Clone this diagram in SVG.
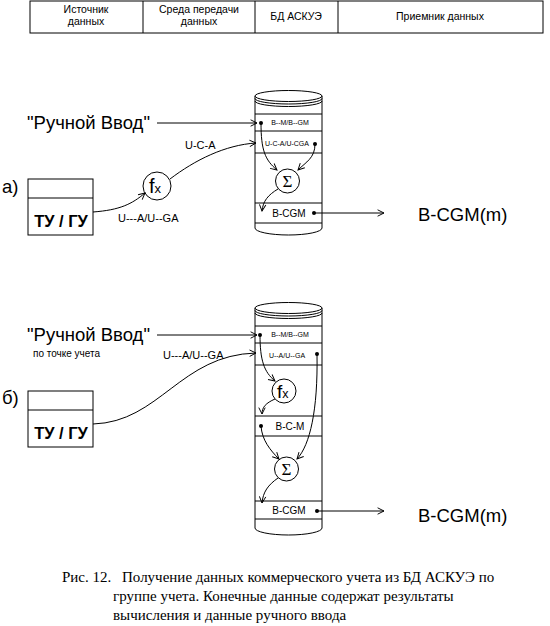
<svg xmlns="http://www.w3.org/2000/svg" width="550" height="626" viewBox="0 0 550 626">
<defs>
<marker id="arr" viewBox="0 0 10 10" refX="9" refY="5" markerWidth="8" markerHeight="8" markerUnits="userSpaceOnUse" orient="auto">
<path d="M1,1 L9,5 L1,9" fill="none" stroke="#000" stroke-width="1.2"/>
</marker>
<style>
.ln{fill:none;stroke:#000;stroke-width:1}
.cyl{fill:#fff;stroke:#000;stroke-width:1}
.s{font-family:"Liberation Sans",Arial,sans-serif;fill:#000}
.hd{font-size:10.5px;text-anchor:middle}
.big{font-size:18.5px}
.lab{font-size:11px}
.row{font-size:7px;text-anchor:middle}
.row2{font-size:10px;text-anchor:middle}
.cap{font-family:"Liberation Serif","Times New Roman",serif;font-size:15px;fill:#000}
.dot{fill:#000}
</style>
</defs>
<rect width="550" height="626" fill="#fff"/>

<g id="header">
<rect x="30" y="1" width="513" height="32" class="ln"/>
<line x1="143" y1="1" x2="143" y2="33" class="ln"/>
<line x1="255" y1="1" x2="255" y2="33" class="ln"/>
<line x1="338" y1="1" x2="338" y2="33" class="ln"/>
<text class="s hd" x="86" y="13">Источник</text>
<text class="s hd" x="86" y="25">данных</text>
<text class="s hd" x="199" y="13">Среда передачи</text>
<text class="s hd" x="199" y="25">данных</text>
<text class="s hd" x="296" y="20">БД АСКУЭ</text>
<text class="s hd" x="440" y="20">Приемник данных</text>
</g>

<!-- Section a -->
<g id="label-a"><text class="s big" x="2" y="193">а)</text></g>
<g id="manual-a"><text class="s big" x="27" y="129">"Ручной Ввод"</text></g>
<g id="tu-a">
<rect x="28" y="179" width="65" height="56" class="ln"/>
<line x1="28" y1="198" x2="93" y2="198" class="ln"/>
<text class="s" x="61" y="227" font-size="16.5" font-weight="bold" text-anchor="middle">ТУ / ГУ</text>
</g>
<g id="fx-a">
<circle cx="157" cy="186" r="14" class="cyl"/>
<text class="s" x="149" y="193" font-size="20">f<tspan font-size="13">x</tspan></text>
</g>
<g id="db-a">
<path d="M255,96 L255,228 A33.5,7 0 0 0 322,228 L322,96" class="cyl"/>
<ellipse cx="288.5" cy="96" rx="33.5" ry="5.5" class="cyl"/>
<path d="M255,98.5 A33.5,5.5 0 0 0 322,98.5" class="ln"/>
<path d="M255,101 A33.5,5.5 0 0 0 322,101" class="ln"/>
<line x1="255" y1="114" x2="322" y2="114" class="ln"/>
<line x1="255" y1="131" x2="322" y2="131" class="ln"/>
<line x1="255" y1="153" x2="322" y2="153" class="ln"/>
<line x1="255" y1="203" x2="322" y2="203" class="ln"/>
<line x1="255" y1="223" x2="322" y2="223" class="ln"/>
<text class="s row" x="290" y="125">B--M/B--GM</text>
<text class="s row" x="287" y="146">U-C-A/U-CGA</text>
<text class="s row2" x="289" y="217">B-CGM</text>
</g>
<g id="sum-a">
<circle cx="287.5" cy="181" r="12" class="cyl"/>
<text x="287.5" y="187" font-family="Liberation Serif,serif" font-size="17" text-anchor="middle">Σ</text>
</g>
<g id="out-a"><text class="s big" x="418" y="221">B-CGM(m)</text></g>

<!-- Section b -->
<g id="label-b"><text class="s big" x="2" y="404">б)</text></g>
<g id="manual-b">
<text class="s big" x="27" y="341">"Ручной Ввод"</text>
<text class="s" x="33" y="357" font-size="10">по точке учета</text>
</g>
<g id="tu-b">
<rect x="28" y="391" width="65" height="56" class="ln"/>
<line x1="28" y1="410" x2="93" y2="410" class="ln"/>
<text class="s" x="61" y="439" font-size="16.5" font-weight="bold" text-anchor="middle">ТУ / ГУ</text>
</g>
<g id="db-b">
<path d="M255,308 L255,528 A33.5,7 0 0 0 322,528 L322,308" class="cyl"/>
<ellipse cx="288.5" cy="308" rx="33.5" ry="5.5" class="cyl"/>
<path d="M255,310.5 A33.5,5.5 0 0 0 322,310.5" class="ln"/>
<path d="M255,313 A33.5,5.5 0 0 0 322,313" class="ln"/>
<line x1="255" y1="326" x2="322" y2="326" class="ln"/>
<line x1="255" y1="343" x2="322" y2="343" class="ln"/>
<line x1="255" y1="365" x2="322" y2="365" class="ln"/>
<line x1="255" y1="416" x2="322" y2="416" class="ln"/>
<line x1="255" y1="436" x2="322" y2="436" class="ln"/>
<line x1="255" y1="501" x2="322" y2="501" class="ln"/>
<line x1="255" y1="519" x2="322" y2="519" class="ln"/>
<text class="s row" x="290" y="337">B--M/B--GM</text>
<text class="s row" x="287" y="358">U--A/U--GA</text>
<text class="s row2" x="290" y="430">B-C-M</text>
<text class="s row2" x="289" y="514">B-CGM</text>
</g>
<g id="fx-b">
<circle cx="284" cy="391" r="12" class="cyl"/>
<text class="s" x="277" y="398" font-size="19">f<tspan font-size="12.5">x</tspan></text>
</g>
<g id="sum-b">
<circle cx="286.5" cy="469" r="12" class="cyl"/>
<text x="286.5" y="475" font-family="Liberation Serif,serif" font-size="17" text-anchor="middle">Σ</text>
</g>
<g id="out-b"><text class="s big" x="418" y="522">B-CGM(m)</text></g>

<g id="connectors">
<line x1="157" y1="123" x2="257" y2="123" class="ln" marker-end="url(#arr)"/>
<path d="M93,212 C120,210 132,204 145,193" class="ln" marker-end="url(#arr)"/>
<path d="M170,179 C195,160 225,145 256,143" class="ln" marker-end="url(#arr)"/>
<text class="s lab" x="185" y="149">U-C-A</text>
<text class="s lab" x="118" y="222">U---A/U--GA</text>
<circle cx="261" cy="123" r="2" class="dot"/>
<circle cx="315" cy="144" r="2" class="dot"/>
<circle cx="314" cy="213" r="2" class="dot"/>
<path d="M261,123 C261,150 265,160 277,170" class="ln" marker-end="url(#arr)"/>
<path d="M315,144 C315,158 306,162 298,170" class="ln" marker-end="url(#arr)"/>
<path d="M278,189 C268,195 263,201 262,211" class="ln" marker-end="url(#arr)"/>
<line x1="314" y1="213" x2="384" y2="213" class="ln" marker-end="url(#arr)"/>
<line x1="157" y1="335" x2="257" y2="335" class="ln" marker-end="url(#arr)"/>
<path d="M93,424 C160,422 180,355 256,353" class="ln" marker-end="url(#arr)"/>
<text class="s lab" x="163" y="359">U---A/U--GA</text>
<circle cx="260" cy="335" r="2" class="dot"/>
<circle cx="317" cy="354" r="2" class="dot"/>
<circle cx="261" cy="426" r="2" class="dot"/>
<circle cx="317" cy="511" r="2" class="dot"/>
<path d="M260,335 C260,360 264,372 275,381" class="ln" marker-end="url(#arr)"/>
<path d="M275,399 C266,403 262,407 262,414" class="ln" marker-end="url(#arr)"/>
<path d="M261,426 C262,440 270,450 279,459" class="ln" marker-end="url(#arr)"/>
<path d="M317,354 C318,410 310,445 297,459" class="ln" marker-end="url(#arr)"/>
<path d="M278,478 C268,485 263,492 262,503" class="ln" marker-end="url(#arr)"/>
<line x1="317" y1="511" x2="384" y2="511" class="ln" marker-end="url(#arr)"/>
</g>

<g id="caption">
<text class="cap" x="62" y="582">Рис. 12.</text>
<text class="cap" x="122" y="582">Получение данных коммерческого учета из БД АСКУЭ по</text>
<text class="cap" x="113" y="601">группе учета. Конечные данные содержат результаты</text>
<text class="cap" x="113" y="620">вычисления и данные ручного ввода</text>
</g>
</svg>
